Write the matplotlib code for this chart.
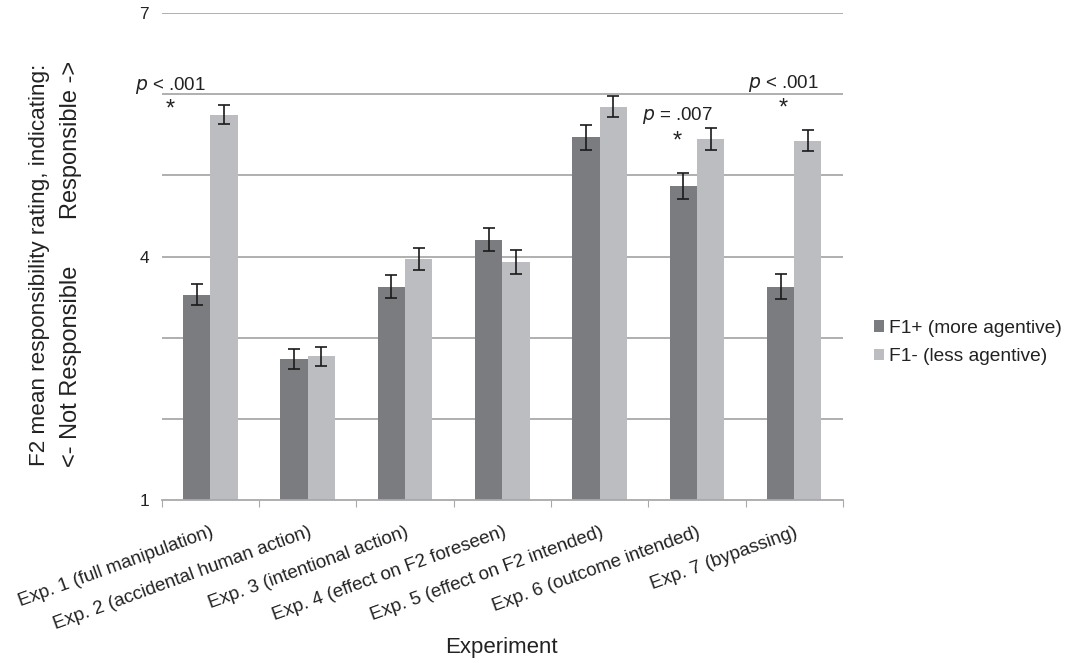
import matplotlib
matplotlib.use("Agg")
import matplotlib.pyplot as plt
import numpy as np

plt.rcParams["font.family"] = ["Liberation Sans", "DejaVu Sans"]

experiments = [
    "Exp. 1 (full manipulation)",
    "Exp. 2 (accidental human action)",
    "Exp. 3 (intentional action)",
    "Exp. 4 (effect on F2 foreseen)",
    "Exp. 5 (effect on F2 intended)",
    "Exp. 6 (outcome intended)",
    "Exp. 7 (bypassing)",
]
f1_plus = [3.53, 2.74, 3.63, 4.21, 5.47, 4.87, 3.63]
f1_plus_err = [0.13, 0.12, 0.14, 0.14, 0.15, 0.16, 0.15]
f1_minus = [5.75, 2.77, 3.97, 3.93, 5.85, 5.45, 5.43]
f1_minus_err = [0.12, 0.12, 0.14, 0.15, 0.13, 0.13, 0.13]

# significance notes
sig_groups = [0, 5, 6]
sig_labels = [r"$\it{p}$ < .001", r"$\it{p}$ = .007", r"$\it{p}$ < .001"]

dark = "#7b7c80"
light = "#bcbdc1"
grid = "#a9a9a9"
txt = "#222222"

fig = plt.figure(figsize=(10.71, 6.63), dpi=100)
ax = fig.add_axes([0.151, 0.246, 0.636, 0.734])

x = np.arange(len(experiments))
w = 0.28
ax.bar(x - w / 2, f1_plus, w, color=dark, label="F1+ (more agentive)", zorder=2)
ax.bar(x + w / 2, f1_minus, w, color=light, label="F1- (less agentive)", zorder=2)
ebk = dict(ecolor="#1a1a1a", elinewidth=1.2, capsize=4, capthick=1.2, fmt="none", zorder=3)
ax.errorbar(x - w / 2, f1_plus, yerr=f1_plus_err, **ebk)
ax.errorbar(x + w / 2, f1_minus, yerr=f1_minus_err, **ebk)

ax.set_ylim(1, 7)
ax.set_xlim(-0.5, len(experiments) - 0.5)
for v in range(2, 8):
    ax.axhline(v, color=grid, lw=1.3, zorder=1)
ax.set_yticks([1, 4, 7])
ax.tick_params(axis="y", length=0, labelsize=12.5, labelcolor=txt, pad=9)

for s in ["top", "right", "left"]:
    ax.spines[s].set_visible(False)
ax.spines["bottom"].set_color(grid)
ax.spines["bottom"].set_linewidth(1.3)

# group boundaries get the little ticks, labels sit on the group centres
ax.set_xticks(np.arange(len(experiments) + 1) - 0.5)
ax.set_xticklabels([])
ax.tick_params(axis="x", length=5, color=grid, direction="out")
ax.set_xticks(x, minor=True)
ax.set_xticklabels(experiments, minor=True, rotation=20, ha="right",
                   rotation_mode="anchor", fontsize=13.5, color=txt)
ax.tick_params(axis="x", which="minor", length=0, pad=17)

# (x offset from group, y of p text, y of star)
note_pos = [(-0.41, 6.11, 5.81), (-0.2, 5.74, 5.42), (-0.11, 6.14, 5.83)]
for g, lab, (off, yp, ys) in zip(sig_groups, sig_labels, note_pos):
    ax.text(g + off, yp, lab, ha="center", va="center", fontsize=13.5, color=txt)
    ax.text(g + off, ys, "*", ha="center", va="center", fontsize=17, color=txt)

fig.text(0.468, 0.008, "Experiment", ha="center", va="bottom", fontsize=16, color=txt)
fig.text(0.037, 0.600, "F2 mean responsibility rating, indicating:", rotation=90,
         ha="center", va="center", fontsize=16.2, color=txt)
fig.text(0.066, 0.296, "<- Not Responsible", rotation=90, ha="center", va="bottom",
         fontsize=17, color=txt)
fig.text(0.066, 0.908, "Responsible ->", rotation=90, ha="center", va="top",
         fontsize=17, color=txt)

leg = ax.legend(loc="center left", bbox_to_anchor=(1.02, 0.323), frameon=False,
                fontsize=13.8, handlelength=0.55, handleheight=0.55, handletextpad=0.25,
                labelspacing=0.6)
for t in leg.get_texts():
    t.set_color(txt)

fig.savefig("out.png", dpi=100)
